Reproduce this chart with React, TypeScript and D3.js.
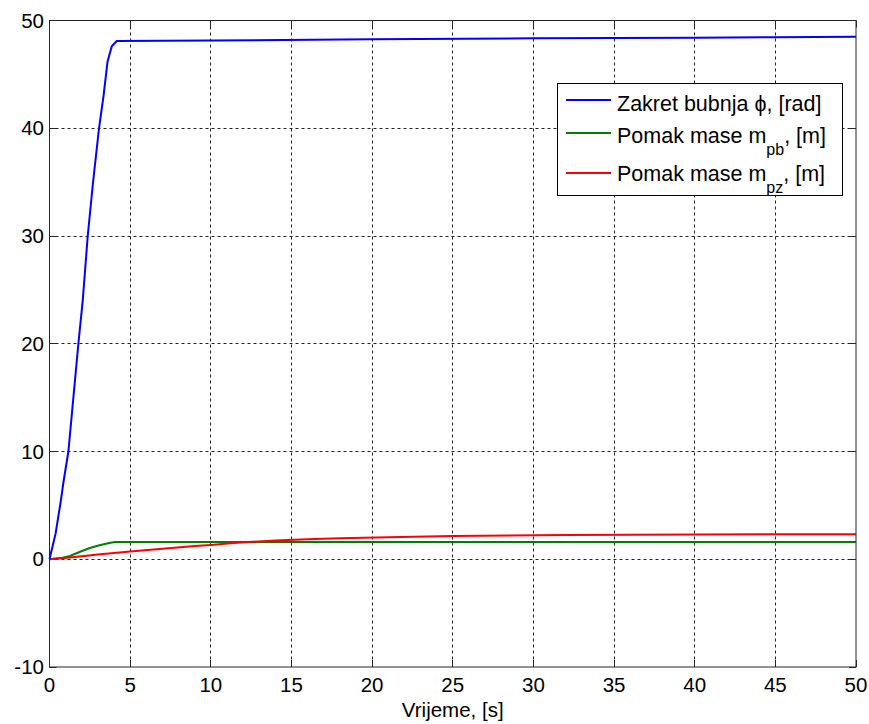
import React from "react";
import * as d3 from "d3";

const xTicks = [0, 5, 10, 15, 20, 25, 30, 35, 40, 45, 50];
const yTicks = [-10, 0, 10, 20, 30, 40, 50];

const blueT = [0, 0.38, 0.71, 0.86, 1.17, 1.48, 1.79, 2.06, 2.37, 2.7, 3.07, 3.35, 3.6, 3.86, 4.17, 10, 20, 30, 40, 45, 50];
const blueV = [0, 2.4, 5.5, 7.1, 10, 15, 20, 24, 30, 35, 40, 43, 46.2, 47.6, 48.1, 48.15, 48.25, 48.35, 48.4, 48.45, 48.5];

const greenT = [0, 0.8, 1.27, 1.9, 2.5, 3.1, 3.7, 4.06, 10, 20, 30, 40, 50];
const greenV = [0, 0.15, 0.3, 0.7, 1.04, 1.3, 1.5, 1.6, 1.6, 1.6, 1.6, 1.6, 1.6];

const redT = [0, 1.3, 3, 5, 7, 9, 10, 11.4, 12.6, 14, 16, 18, 21, 25, 32, 40, 50];
const redV = [0, 0.17, 0.45, 0.72, 0.98, 1.22, 1.32, 1.5, 1.62, 1.75, 1.86, 1.95, 2.05, 2.15, 2.25, 2.3, 2.33];

const W = 869;
const H = 724;
const L = 49.5, R = 856, T = 20.5, B = 667;

export default function App() {
  const x = d3.scaleLinear().domain([0, 50]).range([L, R]);
  const y = d3.scaleLinear().domain([-10, 50]).range([B, T]);
  const line = d3.line<[number, number]>().x((d) => x(d[0])).y((d) => y(d[1]));
  const mk = (t: number[], v: number[]) => line(t.map((ti, i) => [ti, v[i]] as [number, number])) || "";
  const crisp = (v: number) => Math.round(v - 0.5) + 0.5;
  const font = "'Liberation Sans', Arial, sans-serif";
  const tickLen = 7;
  const axisColor = "#262626";

  return (
    <svg width={W} height={H} style={{ position: "absolute", left: 0, top: 0, background: "#fff" }} fontFamily={font}>
      <rect x={0} y={0} width={W} height={H} fill="#fff" />
      {/* grid */}
      {xTicks.slice(1, -1).map((t) => (
        <line key={"gx" + t} x1={crisp(x(t))} x2={crisp(x(t))} y1={T} y2={B} stroke="#222" strokeWidth={1} strokeDasharray="3,3" />
      ))}
      {yTicks.slice(1, -1).map((t) => (
        <line key={"gy" + t} x1={L} x2={R} y1={crisp(y(t))} y2={crisp(y(t))} stroke="#222" strokeWidth={1} strokeDasharray="3,3" />
      ))}
      {/* ticks */}
      {xTicks.map((t) => (
        <g key={"tx" + t}>
          <line x1={crisp(x(t))} x2={crisp(x(t))} y1={B} y2={B - tickLen} stroke={axisColor} />
          <line x1={crisp(x(t))} x2={crisp(x(t))} y1={T} y2={T + tickLen} stroke={axisColor} />
          <text x={x(t)} y={692} fontSize={20.5} textAnchor="middle" fill="#000">{t}</text>
        </g>
      ))}
      {yTicks.map((t) => (
        <g key={"ty" + t}>
          <line x1={L} x2={L + tickLen} y1={crisp(y(t))} y2={crisp(y(t))} stroke={axisColor} />
          <line x1={R} x2={R - tickLen} y1={crisp(y(t))} y2={crisp(y(t))} stroke={axisColor} />
          <text x={44} y={y(t) + 7} fontSize={20.5} textAnchor="end" fill="#000">{t}</text>
        </g>
      ))}
      {/* series */}
      <path d={mk(greenT, greenV)} fill="none" stroke="#008000" strokeWidth={2} />
      <path d={mk(redT, redV)} fill="none" stroke="#ff0000" strokeWidth={2} />
      <path d={mk(blueT, blueV)} fill="none" stroke="#0000ff" strokeWidth={2} />
      {/* box */}
      <rect x={L} y={T} width={R - L} height={B - T} fill="none" stroke={axisColor} strokeWidth={1} />
      {/* x label */}
      <text x={(L + R) / 2} y={717} fontSize={20.5} textAnchor="middle" fill="#000">Vrijeme, [s]</text>
      {/* legend */}
      <rect x={557.5} y={83.5} width={285} height={112} fill="#fff" stroke="#000" strokeWidth={1} />
      <line x1={566} x2={611} y1={100} y2={100} stroke="#0000ff" strokeWidth={2} />
      <line x1={566} x2={611} y1={133} y2={133} stroke="#008000" strokeWidth={2} />
      <line x1={566} x2={611} y1={173} y2={173} stroke="#ff0000" strokeWidth={2} />
      <text x={617} y={110.5} fontSize={21.5} fill="#000">Zakret bubnja ϕ, [rad]</text>
      <text x={617} y={142.5} fontSize={21.5} fill="#000">
        Pomak mase m<tspan dy={12} fontSize={16}>pb</tspan><tspan dy={-12}>, [m]</tspan>
      </text>
      <text x={617} y={180.5} fontSize={21.5} fill="#000">
        Pomak mase m<tspan dy={12} fontSize={16}>pz</tspan><tspan dy={-12}>, [m]</tspan>
      </text>
    </svg>
  );
}
